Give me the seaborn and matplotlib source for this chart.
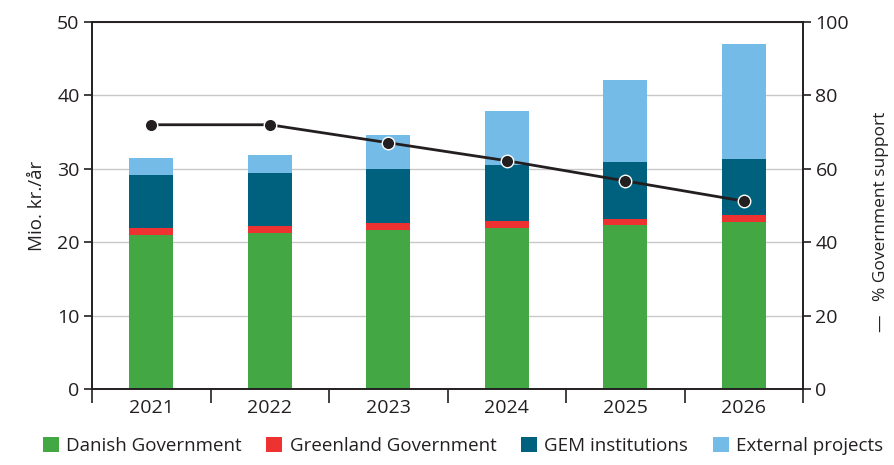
import numpy as np
import pandas as pd
import matplotlib
matplotlib.use("Agg")
import matplotlib.pyplot as plt
import seaborn as sns
from matplotlib.patches import Patch
from matplotlib.ticker import MultipleLocator, FixedLocator

years = ["2021", "2022", "2023", "2024", "2025", "2026"]
danish = [21.0, 21.3, 21.7, 22.0, 22.4, 22.8]
greenland = [1.0, 0.9, 0.9, 0.9, 0.8, 0.9]
gem = [7.2, 7.25, 7.4, 7.6, 7.7, 7.65]
external = [2.3, 2.45, 4.6, 7.4, 11.2, 15.65]
gov_support = [72.0, 72.0, 67.1, 62.2, 56.7, 51.2]

labels = ["Danish Government", "Greenland Government", "GEM institutions", "External projects"]
colors = ["#43a843", "#ee3131", "#00617f", "#74bce7"]

sns.set_theme(style="white")
plt.rcParams["font.family"] = ["Open Sans", "DejaVu Sans"]
plt.rcParams["text.color"] = "#231f20"
plt.rcParams["axes.labelcolor"] = "#231f20"
plt.rcParams["xtick.color"] = "#231f20"
plt.rcParams["ytick.color"] = "#231f20"

df = pd.DataFrame({"year": years, "danish": danish, "greenland": greenland,
                   "gem": gem, "external": external, "gov": gov_support})
layers = ["danish", "greenland", "gem", "external"]
cum = df[layers].cumsum(axis=1)

fig = plt.figure(figsize=(8.94, 4.65), dpi=100)
ax = fig.add_axes([92/894, 1-389/465, (803-92)/894, (389-22)/465])

for i in range(len(layers)-1, -1, -1):
    sns.barplot(x=df["year"], y=cum[layers[i]], color=colors[i], width=0.37,
                saturation=1, ax=ax, zorder=2, edgecolor="none", linewidth=0)

ax.set_ylim(0, 50)
ax.set_xlim(-0.5, len(years)-0.5)
ax.yaxis.set_major_locator(MultipleLocator(10))
ax.grid(axis="y", color="#c8c8c8", linewidth=1.0, zorder=0)
ax.set_axisbelow(True)
ax.set_xlabel("")
ax.set_ylabel("Mio. kr./år", fontsize=13.5, labelpad=8)
ax.tick_params(axis="y", which="major", direction="out", length=6, width=1.2, labelsize=14, pad=3, left=True)
ax.tick_params(axis="x", which="major", length=0, labelsize=14, pad=7)
ax.xaxis.set_minor_locator(FixedLocator(np.arange(-0.5, len(years), 1.0)))
ax.tick_params(axis="x", which="minor", direction="out", length=10, width=1.2, bottom=True)
for s in ax.spines.values():
    s.set_color("#231f20")
    s.set_linewidth(1.2)

ax2 = ax.twinx()
sns.lineplot(x=np.arange(len(years)), y=df["gov"], ax=ax2, color="#231f20",
             linewidth=2, marker="o", markersize=9, markerfacecolor="#231f20",
             markeredgecolor="white", markeredgewidth=1.0, zorder=5)
ax2.set_ylim(0, 100)
ax2.yaxis.set_major_locator(MultipleLocator(20))
ax2.set_ylabel("—   % Government support", fontsize=12.5, rotation=90)
ax2.yaxis.set_label_coords(1.098, 0.455)
ax2.tick_params(axis="y", direction="out", length=6, width=1.2, labelsize=14, pad=3, right=True)
ax2.grid(False)
for s in ax2.spines.values():
    s.set_color("#231f20")
    s.set_linewidth(1.2)

handles = [Patch(facecolor=c, edgecolor="none") for c in colors]
fig.legend(handles, labels, loc="lower center", bbox_to_anchor=(0.518, -0.015), ncol=4,
           frameon=False, fontsize=13.5, handlelength=0.85, handleheight=0.85,
           handletextpad=0.4, columnspacing=1.3)

fig.savefig("out.png", dpi=100)
